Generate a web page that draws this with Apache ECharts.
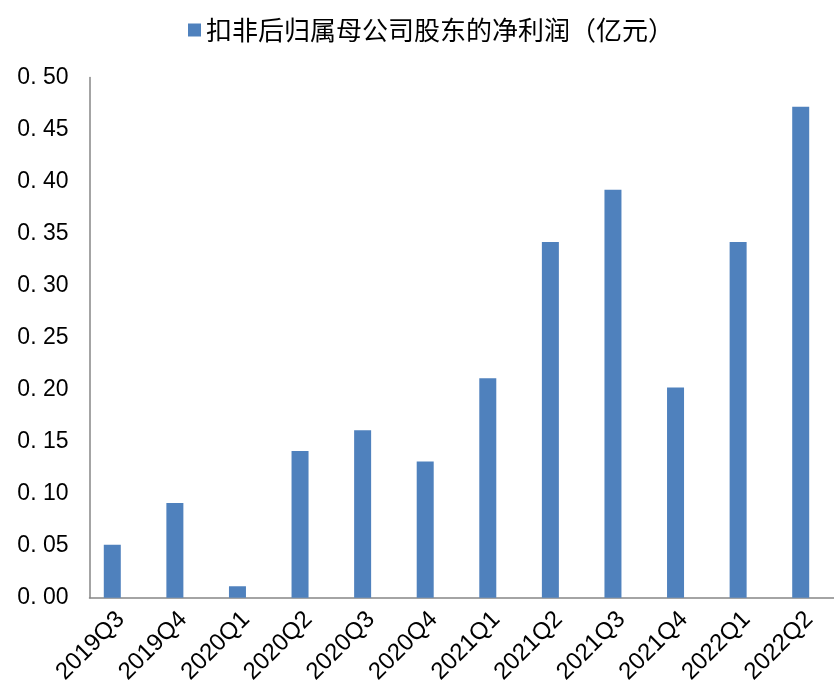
<!DOCTYPE html>
<html>
<head>
<meta charset="utf-8">
<script src="https://cdn.jsdelivr.net/npm/echarts@6/dist/echarts.min.js"></script>
<style>html,body{margin:0;padding:0;background:#fff}#c{width:834px;height:684px}</style>
</head>
<body>
<div id="c"></div>
<script>
const categories = ['2019Q3','2019Q4','2020Q1','2020Q2','2020Q3','2020Q4','2021Q1','2021Q2','2021Q3','2021Q4','2022Q1','2022Q2'];
const profit = [0.051,0.091,0.011,0.141,0.161,0.131,0.211,0.342,0.392,0.202,0.342,0.472];
const seriesName = '扣非后归属母公司股东的净利润（亿元）';
const emptySlot = categories.map(() => null);

const chart = echarts.init(document.getElementById('c'));
chart.setOption({
  animation: false,
  legend: {
    top: 12, left: 183,
    itemWidth: 13, itemHeight: 13, icon: 'rect', itemGap: 6,
    textStyle: {fontFamily: 'Noto Sans CJK SC', fontSize: 26, color: '#000'},
    data: [seriesName]
  },
  grid: {left: 89.5, width: 751, top: 77.5, bottom: 86.3, containLabel: false, outerBoundsMode: 'none'},
  xAxis: {
    type: 'category', data: categories,
    axisLine: {lineStyle: {color: '#868686', width: 1.5}},
    axisTick: {show: false},
    axisLabel: {rotate: 45, fontSize: 24, color: '#000', fontFamily: 'Liberation Sans', margin: 18, interval: 0}
  },
  yAxis: {
    type: 'value', min: 0, max: 0.5, interval: 0.05,
    axisLine: {show: true, lineStyle: {color: '#868686', width: 1.5}},
    axisTick: {show: false},
    splitLine: {show: false},
    axisLabel: {fontSize: 23, color: '#000', fontFamily: 'Liberation Sans', margin: 21,
      formatter: v => v.toFixed(2).replace('.', '. ')}
  },
  series: [{
    name: seriesName, type: 'bar', data: profit, barWidth: 17, barGap: '0%',
    itemStyle: {color: '#4F81BD'}
  }, {
    name: 'spacer', type: 'bar', data: emptySlot, barWidth: 17, barGap: '0%',
    itemStyle: {color: 'transparent'}, silent: true
  }]
});
</script>
</body>
</html>
